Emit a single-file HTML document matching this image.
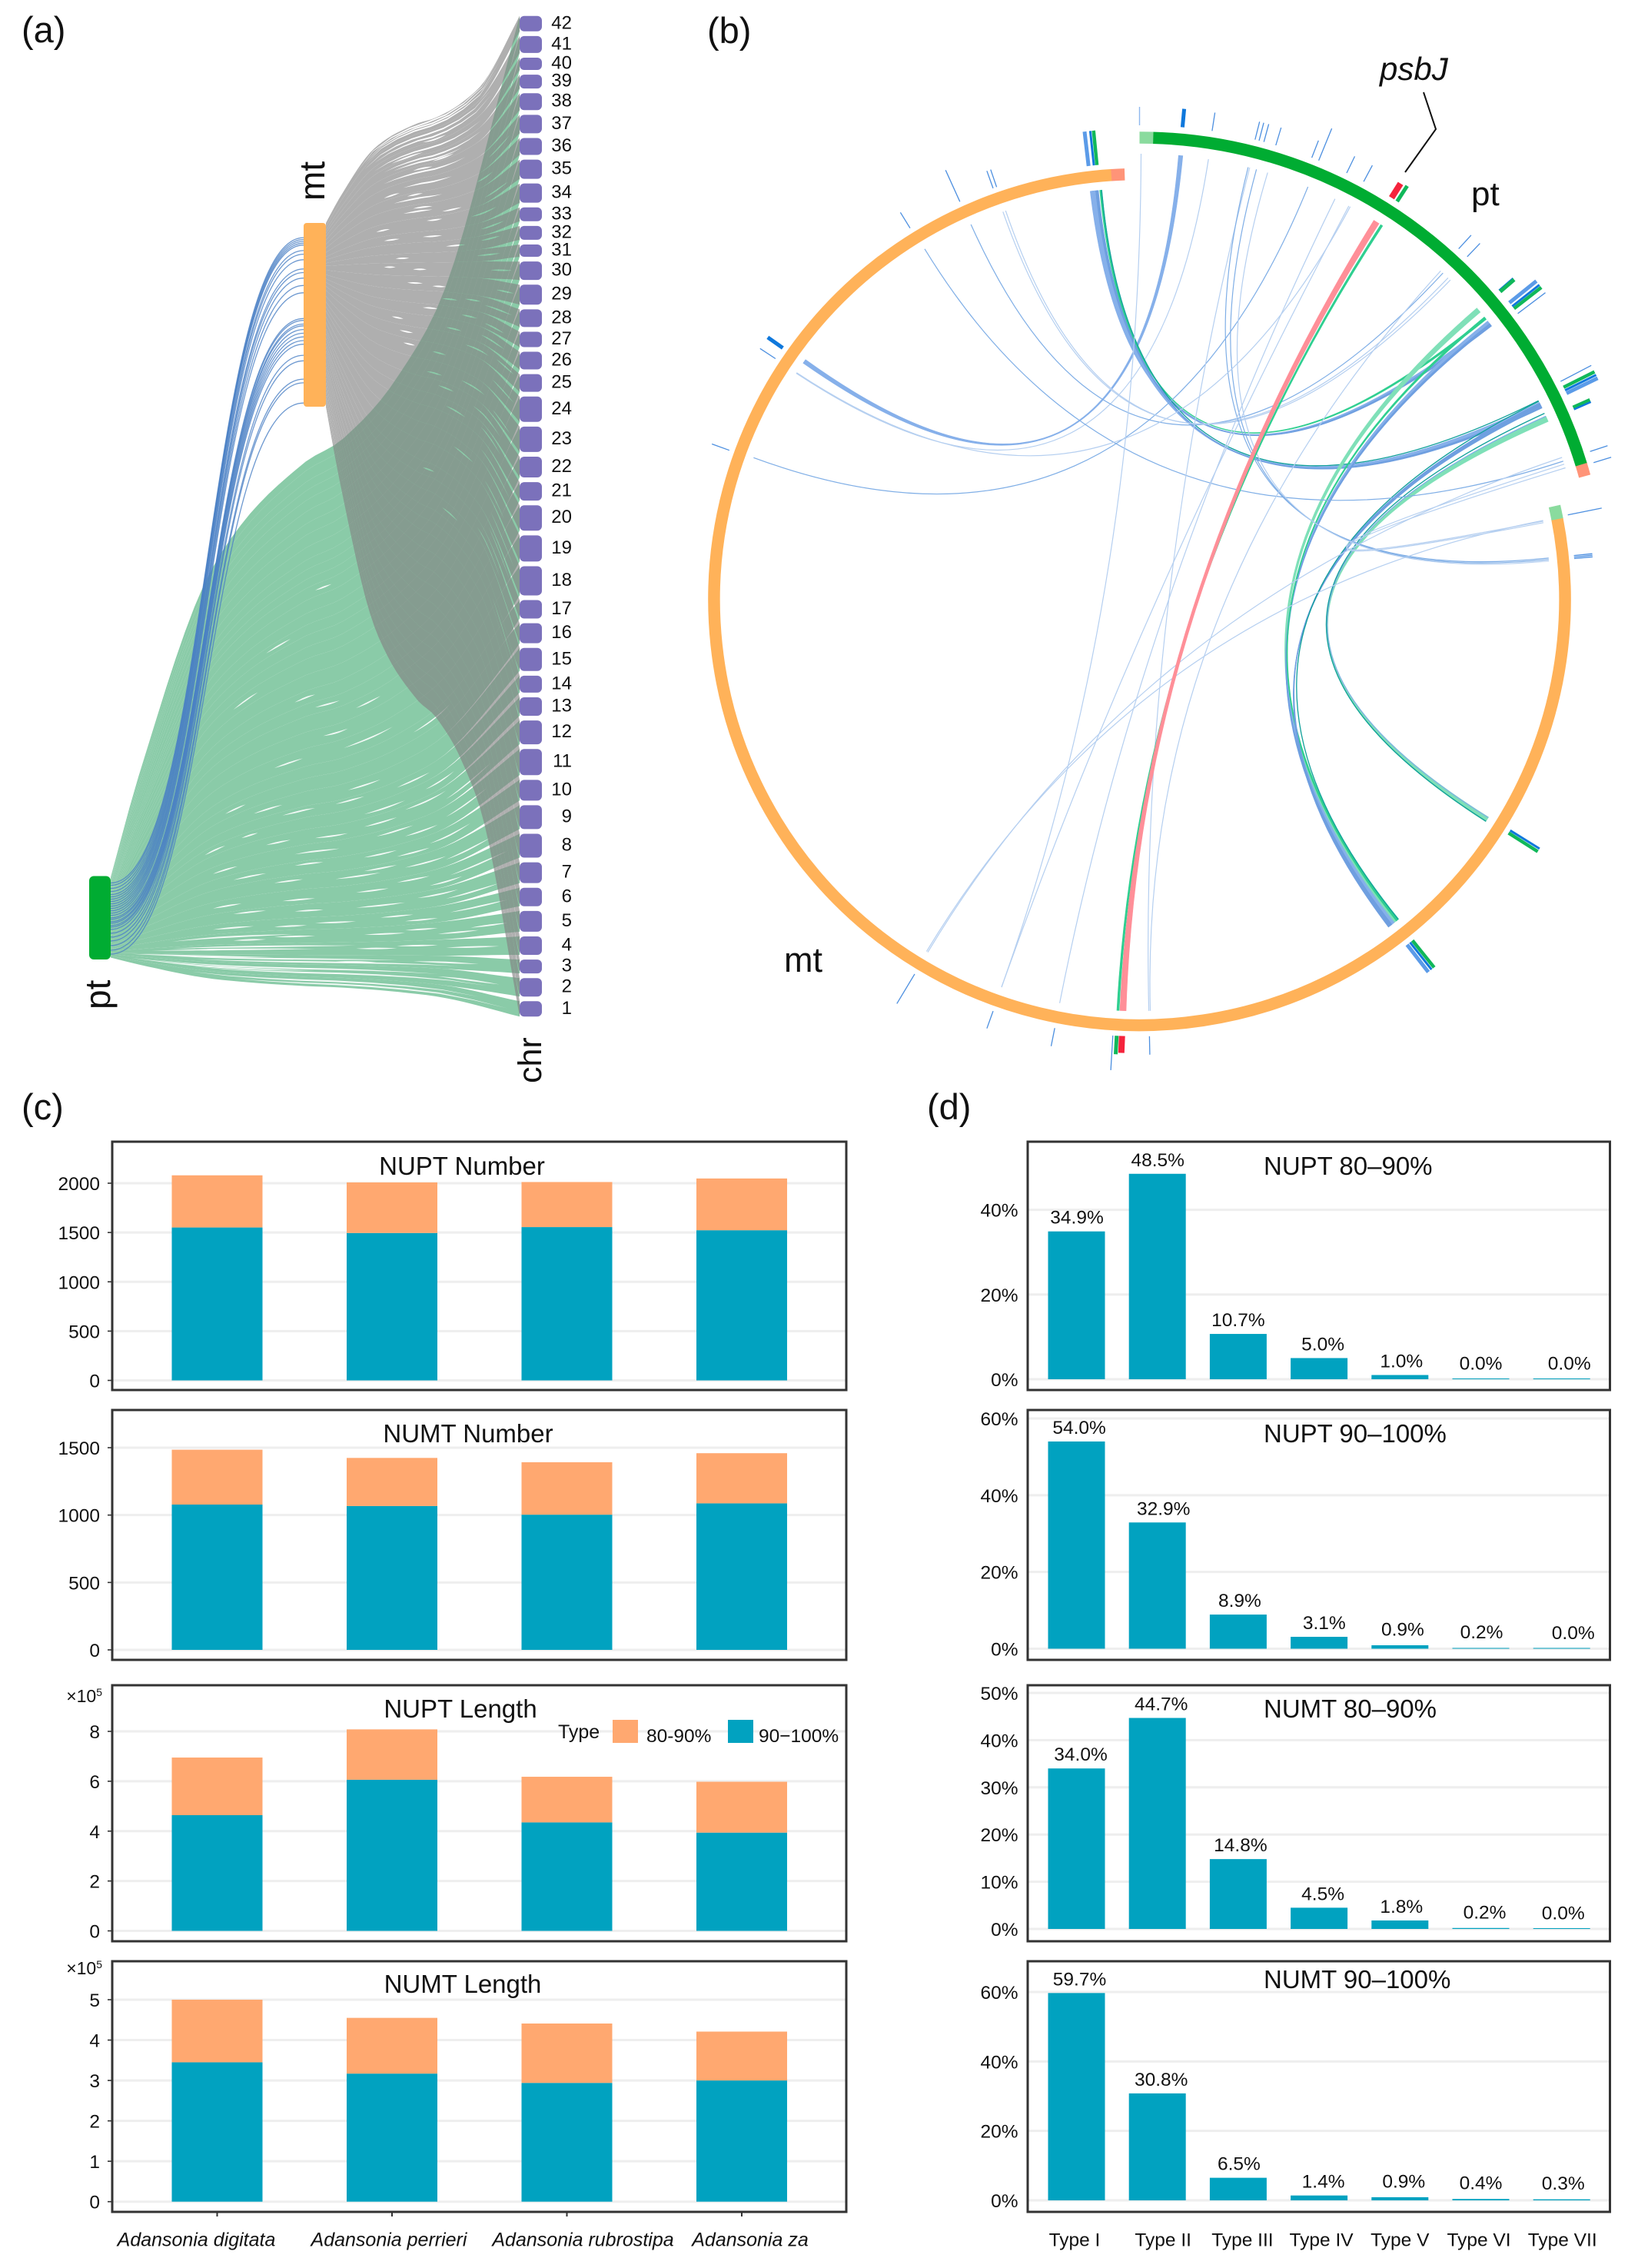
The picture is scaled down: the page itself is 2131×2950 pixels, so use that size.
<!DOCTYPE html>
<html lang="en">
<head>
<meta charset="utf-8">
<title>NUPT and NUMT overview</title>
<style>
html,body{margin:0;padding:0;background:#fff;}
svg{display:block;}
text{font-family:"Liberation Sans",Arial,sans-serif;fill:#111;}
</style>
</head>
<body>
<svg id="figure" xmlns="http://www.w3.org/2000/svg" width="2131" height="2950" viewBox="0 0 2131 2950">
  <rect x="0" y="0" width="2131" height="2950" fill="#fff"/>
  <g id="panel-a"></g>
  <g id="panel-b"></g>
  <g id="panel-c"></g>
  <g id="panel-d"></g>

  <text x="28" y="55" font-size="47">(a)</text>
  <text x="920" y="56" font-size="47">(b)</text>
  <text x="28" y="1456" font-size="47">(c)</text>
  <text x="1206" y="1456" font-size="47">(d)</text>

  <text transform="translate(422,261) rotate(-90)" font-size="46">mt</text>
  <text transform="translate(143,1313) rotate(-90)" font-size="46">pt</text>
  <text transform="translate(704,1409) rotate(-90)" font-size="43">chr</text>

  <text x="1795" y="104" font-size="42" font-style="italic">psbJ</text>
  <polyline points="1852,120 1868,168 1828,224" fill="none" stroke="#111" stroke-width="2"/>
  <text x="1914" y="267" font-size="44">pt</text>
  <text x="1020" y="1264" font-size="45">mt</text>

  <g id="legend">
    <text x="726" y="2261" font-size="25">Type</text>
    <rect x="797" y="2237" width="33" height="30" fill="#FFA870"/>
    <text x="841" y="2266" font-size="24.5">80-90%</text>
    <rect x="947" y="2237" width="33" height="30" fill="#01A2C0"/>
    <text x="987" y="2266" font-size="24.5">90&#8722;100%</text>
  </g>
</svg>

<script>
/* ---------- shared data: panel (a) ---------- */
const chrNumbers = [42,41,40,39,38,37,36,35,34,33,32,31,30,29,28,27,26,25,24,23,22,21,20,19,18,17,16,15,14,13,12,11,10,9,8,7,6,5,4,3,2,1];
const chrLengths = [20,22,16,18,22,24,22,25,25,18,18,16,24,26,23,20,23,23,33,33,27,24,33,34,38,24,26,30,22,24,31,34,27,31,31,27,24,27,24,18,24,20];
const ptMtLinkSource = [.05,.08,.12,.16,.2,.23,.26,.29,.32,.35,.38,.41,.44,.47,.5,.52,.55,.57,.6,.62,.65,.7,.75,.8,.86,.92,.97];
const ptMtLinkTarget = [.08,.09,.1,.11,.12,.15,.17,.2,.25,.27,.3,.34,.38,.52,.53,.55,.56,.58,.6,.62,.64,.66,.72,.75,.85,.87,.98];
const flowShapeT = [0,.07,.21,.32,.47,.57,.7,.83,1];
const flowShapeF = [0,.12,.32,.41,.48,.51,.58,.70,1];
/* gaps in the flows: [chromosome, start of gap, end of gap, lane within the chromosome's flow] */
const ptStreaks = [[18,.40,.47,.5],[21,.5,.56,.5],[13,.23,.28,.5],[13,.32,.36,.3],[18,.57,.69,.5],[17,.74,.83,.5],[13,.77,.84,.5],[10,.78,.88,.5],[8,.83,.97,.5],[6,.83,.97,.5],[5,.88,.97,.5],[15,.35,.42,.5],[11,.45,.56,.5],[9,.55,.66,.5],[7,.6,.72,.5],[10,.3,.38,.5],[7,.45,.52,.5],[12,.62,.7,.5],[14,.7,.78,.5],[9,.72,.82,.5],[11,.82,.92,.5],[6,.5,.6,.5],[5,.62,.72,.5],[4,.2,.3,.5],[4,.6,.7,.5],[3,.74,.9,.5],[24,.3,.36,.5],[27,.38,.44,.5],[30,.5,.54,.5],[22,.45,.5,.5],[16,.28,.33,.5],[19,.52,.58,.5],[8,.25,.32,.5],[8,.6,.68,.5],[12,.38,.44,.5],[4,.82,.95,.5],[2,.8,.95,.5],[5,.4,.5,.5],[6,.25,.35,.5],
  [1,.2,.9,.3],[1,.3,.97,.65],[2,.1,.8,.3],[2,.2,.92,.7],[3,.15,.7,.4],[3,.2,.85,.8],[4,.1,.5,.5],[4,.15,.6,.2],[3,.05,.4,.2],[2,.05,.5,.5],[5,.15,.45,.3],
  [14,.55,.62,.2],[13,.62,.72,.7],[12,.72,.82,.2],[12,.82,.93,.7],[11,.65,.74,.2],[11,.72,.8,.7],[10,.62,.7,.3],[10,.7,.78,.8],[9,.62,.7,.2],[9,.82,.93,.7],[8,.7,.78,.2],[8,.78,.86,.8],[7,.75,.85,.3],[7,.82,.95,.7],[6,.66,.74,.3],[6,.72,.8,.8],[5,.72,.8,.3],[5,.8,.9,.7],[4,.7,.8,.3],[3,.55,.65,.7],[7,.3,.38,.2],[6,.4,.48,.7],[5,.3,.38,.7],[9,.4,.47,.3],[8,.42,.5,.7],[10,.45,.52,.2],[12,.5,.58,.7],[14,.42,.5,.3],[15,.58,.66,.5],[20,.6,.66,.5],[11,.25,.31,.5]];
const mtStreaks = [[42,.15,.9,.2],[42,.2,.9,.45],[42,.2,.88,.7],[41,.2,.85,.2],[41,.25,.85,.6],[40,.25,.8,.5],[39,.3,.8,.3],[39,.35,.7,.7],[38,.3,.72,.5],[37,.4,.65,.4],[36,.35,.6,.5],[35,.4,.55,.5],
  [40,.34,.5,.9],[41,.5,.62,.9],[39,.55,.66,.9],[38,.45,.55,.2],[37,.3,.38,.8],[36,.42,.5,.1],[35,.6,.7,.8],[34,.26,.33,.5],[33,.5,.6,.5],[32,.62,.72,.5],[31,.36,.43,.5],[30,.45,.52,.5],[29,.42,.5,.5],[28,.6,.68,.5],[27,.7,.78,.5],[26,.34,.4,.5],[25,.38,.45,.5],[24,.55,.62,.5],[23,.7,.82,.5],[22,.76,.9,.5],[21,.62,.72,.5],[20,.8,.95,.5],[19,.66,.76,.5],[18,.85,.97,.5],[17,.5,.56,.5],[16,.78,.9,.5],[15,.6,.68,.5],[14,.86,.97,.5],[34,.75,.88,.5],[33,.8,.92,.5],[31,.78,.9,.5],[30,.85,.96,.5],[28,.82,.96,.5],[26,.8,.92,.5],[25,.72,.84,.5],[24,.86,.97,.5],[36,.78,.86,.5],[29,.88,.97,.5],
  [35,.45,.55,.2],[34,.52,.6,.2],[33,.3,.38,.5],[30,.3,.36,.3],[29,.55,.62,.7],[27,.5,.58,.3],[26,.62,.7,.7],[24,.4,.46,.3],[23,.52,.6,.7],[22,.58,.66,.3],[28,.72,.8,.3],[27,.82,.92,.7],[25,.88,.97,.3],[23,.86,.95,.8],[21,.8,.9,.3],[19,.82,.92,.7],[17,.84,.95,.3],[32,.8,.9,.3],[35,.82,.94,.7],[37,.84,.95,.5]];

/* ---------- data: panel (b), angles in degrees clockwise from top ---------- */
const ptSectorSpan = [0,74.5];
const mtSectorSpan = [77.3,358];
const chordLinks = [
  [5.3,305.4,'blueWide'],[8.9,303.4,'bluePale'],
  [353.4,51.8,'blueWide'],[354,52,'blueMid'],[354.6,50.9,'greenMid'],
  [353.5,64,'blueWide'],[354.1,64.4,'blueMid'],[354.7,63.5,'teal'],
  [49.5,141.3,'greenThick'],[51.6,142,'blueWide'],[51.9,142.3,'blueMid'],[50.8,141.2,'greenMid'],
  [64,142.4,'blueMid'],[64.3,142.6,'blueMid'],[63.6,141,'teal'],
  [66.1,122.3,'greenThick'],[65.7,122,'blueThin'],[65.3,122.6,'teal'],
  [290.2,22.2,'blueThin'],[328.5,71.9,'blueThin'],[335.8,42.9,'blueThin'],[340.6,43.8,'bluePale'],[341,44.2,'bluePale'],
  [0.2,199.6,'bluePale'],[14.3,178.7,'bluePale'],[14.1,84.2,'blueThin'],[15.2,84.4,'blueThin'],[16.7,84.6,'bluePale'],
  [211,71.4,'bluePale'],[211.2,78.9,'bluePale'],[191.2,26,'bluePale'],[199.6,28,'bluePale'],
  [72.3,79,'bluePale'],[72.8,79.2,'bluePale'],[178.5,42.5,'bluePale'],[28.2,303.5,'bluePale'],
  [32.9,183,'greenMid'],[32.1,182.3,'salmon']
];
const sectorTicks = [
  [0,'pale'],[5.2,'thick'],[8.8,'thin'],[14.1,'thin'],[14.6,'thin'],[15.2,'thin'],[16.7,'thin'],[21.3,'thin'],[22.2,'long'],[25.9,'thin'],[28.2,'thin'],
  [32.1,'red'],[32.9,'green'],[42.3,'thin'],[43.7,'thin'],[49.3,'solidShort'],[49.5,'green'],[51.25,'blue'],[51.8,'solid'],[52.15,'greenLong'],[52.9,'long'],
  [62.6,'long'],[63.4,'greenLong'],[63.8,'solid'],[64.2,'blue'],[66.1,'green'],[66.35,'solidShort'],[71.8,'thin'],[73.2,'thin'],
  [78.8,'long'],[84.2,'thin'],[84.4,'thin'],[84.6,'thin'],[121.9,'solid'],[122.3,'greenLong'],[141.3,'greenLong'],[141.7,'solid'],[142.2,'blue'],
  [178.7,'thin'],[182.3,'red'],[183,'green'],[183.5,'long'],[191.2,'thin'],[199.6,'thin'],[211,'long'],
  [290,'thin'],[303.5,'thin'],[305.2,'thick'],[328.3,'thin'],[335.7,'long'],[340.4,'thin'],[340.9,'thin'],
  [353.3,'blue'],[354,'solid'],[354.4,'greenLong']
];

/* ---------- data: panel (c) ---------- */
const speciesNames = ['Adansonia digitata','Adansonia perrieri','Adansonia rubrostipa','Adansonia za'];
const nuptNumberHigh = [1551,1495,1555,1523];
const nuptNumberLow  = [529,513,457,525];
const numtNumberHigh = [1078,1067,1003,1087];
const numtNumberLow  = [407,357,389,372];
const nuptLengthHigh = [4.64,6.06,4.35,3.94];
const nuptLengthLow  = [2.31,2.02,1.83,2.04];
const numtLengthHigh = [3.45,3.17,2.94,3.00];
const numtLengthLow  = [1.55,1.38,1.47,1.21];
const nuptNumberTicks = [0,500,1000,1500,2000];
const numtNumberTicks = [0,500,1000,1500];
const nuptLengthTicks = [0,2,4,6,8];
const numtLengthTicks = [0,1,2,3,4,5];

/* ---------- data: panel (d) ---------- */
const typeNames = ['Type I','Type II','Type III','Type IV','Type V','Type VI','Type VII'];
const nupt80Values = [34.9,48.5,10.7,5.0,1.0,0.0,0.0];
const nupt90Values = [54.0,32.9,8.9,3.1,0.9,0.2,0.0];
const numt80Values = [34.0,44.7,14.8,4.5,1.8,0.2,0.0];
const numt90Values = [59.7,30.8,6.5,1.4,0.9,0.4,0.3];
const nupt80Ticks = [0,20,40];
const nupt90Ticks = [0,20,40,60];
const numt80Ticks = [0,10,20,30,40,50];
const numt90Ticks = [0,20,40,60];

/* ---------- helpers ---------- */
const SVGNS = 'http://www.w3.org/2000/svg';
function make(tag, attrs, parent) {
  const node = document.createElementNS(SVGNS, tag);
  for (const k in attrs) node.setAttribute(k, attrs[k]);
  parent.appendChild(node);
  return node;
}

/* ---------- panel (a): alluvial ---------- */
(function () {
  const root = document.getElementById('panel-a');
  const ptNode = {x:116, w:28, top:1139.5, bottom:1248};
  const mtNode = {x:395, w:29, top:290, bottom:529};
  const chrX = 676, chrW = 29, chrTop = 20.8, chrGap = 6.11;

  function shape(t) {
    const T = flowShapeT, F = flowShapeF, n = T.length;
    if (t <= 0) return 0;
    if (t >= 1) return 1;
    let i = 0;
    while (i < n - 2 && t > T[i + 1]) i++;
    const slope = j => j <= 0 ? (F[1]-F[0])/(T[1]-T[0]) : j >= n-1 ? (F[n-1]-F[n-2])/(T[n-1]-T[n-2]) : (F[j+1]-F[j-1])/(T[j+1]-T[j-1]);
    const h = T[i+1]-T[i], s = (t-T[i])/h, s2 = s*s, s3 = s2*s;
    return (2*s3-3*s2+1)*F[i] + (s3-2*s2+s)*h*slope(i) + (-2*s3+3*s2)*F[i+1] + (s3-s2)*h*slope(i+1);
  }
  function smooth(v) { const c = Math.max(0, Math.min(1, v)); return c*c*(3-2*c); }

  const total = chrLengths.reduce((a,b)=>a+b,0);
  const layout = {};
  let cursor = chrTop, acc = 0;
  chrNumbers.forEach((num, i) => {
    layout[num] = {top:cursor, bottom:cursor+chrLengths[i], f0:acc/total, f1:(acc+chrLengths[i])/total};
    cursor += chrLengths[i] + chrGap;
    acc += chrLengths[i];
  });

  function band(num, x0, x1, srcTop, srcBottom, fadeStart) {
    const L = layout[num];
    const s0 = srcTop + (srcBottom-srcTop)*L.f0, s1 = srcTop + (srcBottom-srcTop)*L.f1;
    const upper = [], lower = [];
    const steps = 44;
    for (let k = 0; k <= steps; k++) {
      const t = k/steps, F = shape(t), x = x0 + (x1-x0)*t;
      const ext = fadeStart >= 1 ? 0 : chrGap/2*(1 - smooth((t-fadeStart)/(1-fadeStart)));
      const extTop = num === 42 ? 0 : ext, extBot = num === 1 ? 0 : ext;
      upper.push(x.toFixed(1)+','+(s0+(L.top-extTop-s0)*F).toFixed(1));
      lower.unshift(x.toFixed(1)+','+(s1+(L.bottom+extBot-s1)*F).toFixed(1));
    }
    return 'M'+upper.join('L')+'L'+lower.join('L')+'Z';
  }
  /* a gap is a thin lens following one flow lane between two positions along the flow */
  function gapPath(st, x0, x1, srcTop, srcBottom, halfWidth) {
    const num = st[0], t0 = st[1], t1 = st[2], lane = st[3];
    const L = layout[num];
    const fm = L.f0+(L.f1-L.f0)*lane, s = srcTop+(srcBottom-srcTop)*fm, tgt = L.top+(L.bottom-L.top)*lane;
    const up = [], down = [];
    const steps = 8;
    for (let k = 0; k <= steps; k++) {
      const u = k/steps, t = t0+(t1-t0)*u;
      const x = x0+(x1-x0)*t, y = s+(tgt-s)*shape(t), w = halfWidth*Math.sin(Math.PI*u);
      up.push(x.toFixed(1)+','+(y-w).toFixed(2));
      down.unshift(x.toFixed(1)+','+(y+w).toFixed(2));
    }
    return 'M'+up.join('L')+'L'+down.join('L')+'Z';
  }

  const ptX = ptNode.x+ptNode.w, mtX = mtNode.x+mtNode.w;

  const greenGroup = make('g', {fill:'#8ACBA8'}, root);
  
  
  chrNumbers.forEach(num => {
    const fade = num <= 3 ? .8 : (num <= 15 ? .78 : .97);
    const p = make('path', {d:band(num, ptX, chrX, ptNode.top+1.5, ptNode.bottom-2.5, fade)}, greenGroup);
    
    
  });
  ptStreaks.forEach(s => {
    const p = make('path', {d:gapPath(s, ptX, chrX, ptNode.top+1.5, ptNode.bottom-2.5, 1), fill:'#fff', opacity:.9}, greenGroup);
    
    
  });

  const mask = make('mask', {id:'grayGaps', maskUnits:'userSpaceOnUse', x:0, y:0, width:800, height:1420}, root);
  
  
  make('rect', {x:0, y:0, width:800, height:1420, fill:'#fff'}, mask);
  mtStreaks.forEach(s => {
    make('path', {d:gapPath(s, mtX, chrX, mtNode.top, mtNode.bottom, 1), fill:'#000'}, mask);
  });

  const grayOuter = make('g', {opacity:.64, mask:'url(#grayGaps)'}, root);
  
  
  const gray = make('g', {fill:'#838383'}, grayOuter);
  chrNumbers.forEach(num => {
    const fade = num >= 16 ? .78 : .97;
    const p = make('path', {d:band(num, mtX, chrX, mtNode.top, mtNode.bottom, fade)}, gray);
    
    
  });

  ptMtLinkSource.forEach((f, i) => {
    const ys = ptNode.top + 4 + (ptNode.bottom-ptNode.top-8)*f;
    const ye = mtNode.top + (mtNode.bottom-mtNode.top)*ptMtLinkTarget[i];
    const mid = (ptX+mtNode.x)/2;
    const p = make('path', {d:`M${ptX},${ys.toFixed(1)}C${mid},${ys.toFixed(1)} ${mid},${ye.toFixed(1)} ${mtNode.x},${ye.toFixed(1)}`, fill:'none', stroke:'#4A80C4', 'stroke-opacity':.8, 'stroke-width':1.3}, root);
    
    
  });

  const ptRect = make('rect', {x:ptNode.x, y:ptNode.top, width:ptNode.w, height:ptNode.bottom-ptNode.top, rx:6, fill:'#00AC32'}, root);
  
  
  const mtRect = make('rect', {x:mtNode.x, y:mtNode.top, width:mtNode.w, height:mtNode.bottom-mtNode.top, rx:4, fill:'#FFB259'}, root);
  
  

  chrNumbers.forEach(num => {
    const L = layout[num];
    const r = make('rect', {x:chrX, y:L.top, width:chrW, height:L.bottom-L.top, rx:6, fill:'#7B71BB'}, root);
    
    
    const t = make('text', {x:744, y:(L.top+L.bottom)/2+6.5, 'text-anchor':'end', 'font-size':24}, root);
    
    
    t.textContent = num;
  });
})();

/* ---------- panel (b): circos ---------- */
(function () {
  const root = document.getElementById('panel-b');
  const cx = 1482.5, cy = 780;
  const ptR = 601, mtR = 553.5, ptLinkR = 580, mtLinkR = 535;
  const linkStyle = {
    blueWide:{c:'#86B0EA', w:5.5}, blueMid:{c:'#6F9FE0', w:3}, blueThin:{c:'#7FAEE6', w:1.2},
    bluePale:{c:'#B5CFF0', w:1.2}, greenThick:{c:'#7FE0B8', w:7}, greenMid:{c:'#2FCF90', w:3},
    teal:{c:'#10A09A', w:1.3}, salmon:{c:'#FF8F98', w:8}
  };
  const tickStyle = {
    pale:{c:'#8FB8EE', w:1.4, len:24}, thin:{c:'#4C8FE0', w:1.3, len:24}, long:{c:'#4C8FE0', w:1.3, len:45},
    blue:{c:'#5B9BE8', w:5, len:45}, solid:{c:'#0F78DC', w:3, len:45}, solidShort:{c:'#0F78DC', w:2.5, len:24},
    thick:{c:'#0F78DC', w:5, len:24}, green:{c:'#10B85A', w:5, len:24},
    greenLong:{c:'#10B85A', w:4.5, len:45}, red:{c:'#F5233C', w:8, len:22}
  };
  function pt(angle, r) {
    const a = angle*Math.PI/180;
    return [cx + r*Math.sin(a), cy - r*Math.cos(a)];
  }
  function arc(a0, a1, r) {
    const p0 = pt(a0, r), p1 = pt(a1, r), large = a1-a0 > 180 ? 1 : 0;
    return `M${p0[0].toFixed(2)},${p0[1].toFixed(2)}A${r},${r} 0 ${large} 1 ${p1[0].toFixed(2)},${p1[1].toFixed(2)}`;
  }
  const onPt = a => a >= ptSectorSpan[0] && a <= ptSectorSpan[1];
  const radiusFor = a => onPt(a) ? ptLinkR : mtLinkR;
  const xy = p => p[0].toFixed(1)+','+p[1].toFixed(1);

  chordLinks.forEach(l => {
    const s = linkStyle[l[2]];
    let attrs;
    if (s.w >= 2) {
      const lo = Math.min(l[0], l[1]), hi = Math.max(l[0], l[1]);
      const dLo = (s.w/2)/radiusFor(lo)*180/Math.PI, dHi = (s.w/2)/radiusFor(hi)*180/Math.PI;
      const a = pt(lo-dLo, radiusFor(lo)), b = pt(hi+dHi, radiusFor(hi)), c = pt(hi-dHi, radiusFor(hi)), d = pt(lo+dLo, radiusFor(lo));
      attrs = {d:`M${xy(a)}Q${cx},${cy} ${xy(b)}L${xy(c)}Q${cx},${cy} ${xy(d)}Z`, fill:s.c, stroke:s.c, 'stroke-width':.6};
    } else {
      const p0 = pt(l[0], radiusFor(l[0])), p1 = pt(l[1], radiusFor(l[1]));
      attrs = {d:`M${xy(p0)}Q${cx},${cy} ${xy(p1)}`, fill:'none', stroke:s.c, 'stroke-width':s.w};
    }
    const path = make('path', attrs, root);
    
    
  });

  sectorTicks.forEach(t => {
    const s = tickStyle[t[1]], base = onPt(t[0]) ? 617 : 568;
    const p0 = pt(t[0], base), p1 = pt(t[0], base+s.len);
    const line = make('line', {x1:p0[0].toFixed(1), y1:p0[1].toFixed(1), x2:p1[0].toFixed(1), y2:p1[1].toFixed(1), stroke:s.c, 'stroke-width':s.w}, root);
    
    
  });

  const seg = (a0, a1, r, c) => make('path', {d:arc(a0, a1, r), fill:'none', stroke:c, 'stroke-width':15.5}, root);

  const ptMain = seg(ptSectorSpan[0]+1.6, ptSectorSpan[1]-1.4, ptR, '#00AC32');
  
  
  const ptStart = seg(ptSectorSpan[0], ptSectorSpan[0]+1.7, ptR, '#8ADB9E');
  
  
  const ptEnd = seg(ptSectorSpan[1]-1.5, ptSectorSpan[1], ptR, '#FF9478');
  
  

  const mtMain = seg(mtSectorSpan[0]+1.7, mtSectorSpan[1]-1.7, mtR, '#FFB259');
  
  
  const mtStart = seg(mtSectorSpan[0], mtSectorSpan[0]+1.8, mtR, '#8ADB9E');
  
  
  const mtEnd = seg(mtSectorSpan[1]-1.8, mtSectorSpan[1], mtR, '#FF9478');
  
  
})();

/* ---------- frames and axes shared by (c) and (d) ---------- */
function drawFrame(parent, x0, x1, top, bottom) {
  const frame = make('rect', {x:x0, y:top, width:x1-x0, height:bottom-top, fill:'none', stroke:'#333', 'stroke-width':3}, parent);
  
  
}
function drawYAxis(parent, ticks, yScale, x0, x1, labelX, suffix, showTick) {
  ticks.forEach(v => {
    const y = yScale(v);
    const g = make('line', {x1:x0, x2:x1, y1:y, y2:y, stroke:'#EEEEEE', 'stroke-width':3}, parent);
    
    
    if (showTick) {
      const t = make('line', {x1:x0-6, x2:x0, y1:y, y2:y, stroke:'#333', 'stroke-width':1.6}, parent);
      
      
    }
    const lab = make('text', {x:labelX, y:y+9, 'text-anchor':'end', 'font-size':24.5}, parent);
    
    
    lab.textContent = v + suffix;
  });
}

/* ---------- panel (c): stacked bars ---------- */
(function () {
  const root = document.getElementById('panel-c');
  const left = 146, right = 1101;
  const xCenter = i => 282.5 + 227.5*i;
  const barW = 118;
  const panels = [
    {title:'NUPT Number', titleX:601, titleY:1528, top:1485, bottom:1808, zero:1795.5, refVal:2000, refY:1539, ticks:nuptNumberTicks, high:nuptNumberHigh, low:nuptNumberLow, mult:false},
    {title:'NUMT Number', titleX:609, titleY:1876, top:1834, bottom:2159, zero:2146, refVal:1500, refY:1883, ticks:numtNumberTicks, high:numtNumberHigh, low:numtNumberLow, mult:false},
    {title:'NUPT Length', titleX:599, titleY:2234, top:2192, bottom:2525, zero:2511.5, refVal:8, refY:2252, ticks:nuptLengthTicks, high:nuptLengthHigh, low:nuptLengthLow, mult:true, multY:2214},
    {title:'NUMT Length', titleX:602, titleY:2592, top:2551, bottom:2877, zero:2863.7, refVal:5, refY:2601, ticks:numtLengthTicks, high:numtLengthHigh, low:numtLengthLow, mult:true, multY:2568}
  ];
  panels.forEach(P => {
    const y = v => P.zero - (P.zero-P.refY)*v/P.refVal;
    drawYAxis(root, P.ticks, y, left, right, 130, '', true);
    P.high.forEach((h, i) => {
      const total = h + P.low[i];
      const hi = make('rect', {x:xCenter(i)-barW/2, y:y(h), width:barW, height:y(0)-y(h), fill:'#01A2C0'}, root);
      
      
      const lo = make('rect', {x:xCenter(i)-barW/2, y:y(total), width:barW, height:y(h)-y(total), fill:'#FFA870'}, root);
      
      
    });
    drawFrame(root, left, right, P.top, P.bottom);
    const title = make('text', {x:P.titleX, y:P.titleY, 'text-anchor':'middle', 'font-size':33}, root);
    
    
    title.textContent = P.title;
    if (P.mult) {
      const m = make('text', {x:133, y:P.multY, 'text-anchor':'end', 'font-size':23}, root);
      
      
      m.textContent = '\u00D710';
      const sup = make('tspan', {dy:-8, 'font-size':14}, m);
      sup.textContent = '5';
    }
  });
  speciesNames.forEach((name, i) => {
    const t = make('line', {x1:xCenter(i), x2:xCenter(i), y1:2877, y2:2883, stroke:'#333', 'stroke-width':2}, root);
    
    
    const lab = make('text', {x:xCenter(i)+[-27,-4,21,11][i], y:2921.5, 'text-anchor':'middle', 'font-size':25, 'font-style':'italic'}, root);
    
    
    lab.textContent = name;
  });
})();

/* ---------- panel (d): type shares ---------- */
(function () {
  const root = document.getElementById('panel-d');
  const left = 1337, right = 2094.5;
  const xCenter = i => 1400.5 + 105.2*i;
  const barW = 74;
  const panels = [
    {title:'NUPT 80\u201390%', titleY:1528, top:1485, bottom:1808, zero:1794, refVal:40, refY:1573.6, ticks:nupt80Ticks, values:nupt80Values, labelDodge:[.5,.5,0,5,2,0,10]},
    {title:'NUPT 90\u2013100%', titleY:1876, top:1834, bottom:2159, zero:2144.5, refVal:60, refY:1845, ticks:nupt90Ticks, values:nupt90Values, labelDodge:[3.6,8,2,6.7,3.6,1,15]},
    {title:'NUMT 80\u201390%', titleY:2234, top:2192, bottom:2525, zero:2509, refVal:50, refY:2202, ticks:numt80Ticks, values:numt80Values, labelDodge:[5.5,5,3,5,2,5,2]},
    {title:'NUMT 90\u2013100%', titleY:2586, top:2551, bottom:2877, zero:2862, refVal:60, refY:2591, ticks:numt90Ticks, values:numt90Values, labelDodge:[4,5,1,5.5,5,0,2]}
  ];
  panels.forEach(P => {
    const y = v => P.zero - (P.zero-P.refY)*v/P.refVal;
    drawYAxis(root, P.ticks, y, left, right, 1324.5, '%', false);
    P.values.forEach((v, i) => {
      const barH = Math.max(y(0)-y(v), 1);
      const bar = make('rect', {x:xCenter(i)-barW/2, y:y(0)-barH, width:barW, height:barH, fill:'#01A2C0'}, root);
      
      
      const lab = make('text', {x:xCenter(i)+P.labelDodge[i], y:y(v)-(v < 1 ? 12.5 : 10), 'text-anchor':'middle', 'font-size':24.5}, root);
      
      
      lab.textContent = v.toFixed(1) + '%';
    });
    drawFrame(root, left, right, P.top, P.bottom);
    const title = make('text', {x:1644, y:P.titleY, 'font-size':33}, root);
    
    
    title.textContent = P.title;
  });
  typeNames.forEach((name, i) => {
    const lab = make('text', {x:xCenter(i)+[-2.5,7.5,5.5,3,0,-2.5,1][i], y:2921.5, 'text-anchor':'middle', 'font-size':24.5}, root);
    
    
    lab.textContent = name;
  });
})();
</script>
</body>
</html>
